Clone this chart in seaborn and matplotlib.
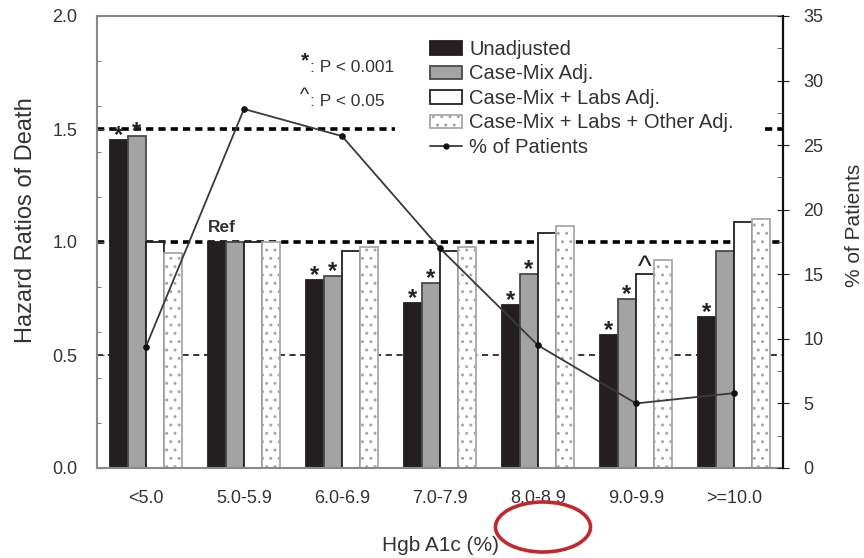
import numpy as np
import pandas as pd
import matplotlib
matplotlib.use("Agg")
import matplotlib.pyplot as plt
import seaborn as sns
from matplotlib.patches import Patch, Ellipse
from matplotlib.lines import Line2D
from matplotlib.ticker import MultipleLocator, FixedLocator

# ---------------- data ----------------
categories = ["<5.0", "5.0-5.9", "6.0-6.9", "7.0-7.9", "8.0-8.9", "9.0-9.9", ">=10.0"]
series_names = ["Unadjusted", "Case-Mix Adj.", "Case-Mix + Labs Adj.",
                "Case-Mix + Labs + Other Adj."]
unadjusted = [1.45, 1.00, 0.83, 0.73, 0.72, 0.59, 0.67]
casemix = [1.47, 1.00, 0.85, 0.82, 0.86, 0.75, 0.96]
casemix_labs = [1.00, 1.00, 0.96, 0.96, 1.04, 0.86, 1.09]
casemix_labs_other = [0.95, 1.00, 0.98, 0.98, 1.07, 0.92, 1.10]
pct_patients = [9.4, 27.8, 25.7, 17.0, 9.5, 5.0, 5.8]
sig_unadjusted = ["*", "", "*", "*", "*", "*", "*"]
sig_casemix = ["*", "", "*", "*", "*", "*", ""]
sig_casemix_labs = ["", "", "", "", "", "^", ""]
sig_other = ["", "", "", "", "", "", ""]
ref_group = "5.0-5.9"
ref_lines = [1.5, 1.0, 0.5]
line_label = "% of Patients"

# ---------------- style ----------------
sns.set_style("white")
plt.rcParams["font.family"] = ["Liberation Sans", "DejaVu Sans"]
TXT = "#333333"

fig = plt.figure(figsize=(8.64, 5.58), dpi=100)
ax = fig.add_axes([97 / 864, 1 - 468 / 558, 686 / 864, 452 / 558])

values = [unadjusted, casemix, casemix_labs, casemix_labs_other]
sigs = [sig_unadjusted, sig_casemix, sig_casemix_labs, sig_other]
df = pd.DataFrame({
    "group": [c for _ in series_names for c in categories],
    "series": [s for s in series_names for _ in categories],
    "hr": [v for vals in values for v in vals],
})

face = ["#231f20", "#a3a3a3", "#ffffff", "#ffffff"]
edge = ["#231f20", "#4a4a4a", "#222222", "#a8a8a8"]
hatch = [None, None, None, ".."]

# reference lines (behind bars); the 1.5 line is interrupted by the legend block
heavy = dict(color="black", lw=2.6, ls=(0, (2.0, 1.4)), zorder=0.5)
ax.axhline(ref_lines[0], xmin=0, xmax=(395 - 97) / 686, **heavy)
ax.axhline(ref_lines[0], xmin=(765 - 97) / 686, xmax=1, **heavy)
ax.axhline(ref_lines[1], **heavy)
ax.axhline(ref_lines[2], color="black", lw=1.1, ls=(0, (4, 3)), zorder=0.5)

sns.barplot(data=df, x="group", y="hr", hue="series", order=categories,
            hue_order=series_names, palette=face, saturation=1, width=0.74,
            errorbar=None, legend=False, ax=ax, zorder=2)

for i, cont in enumerate(ax.containers):
    for j, bar in enumerate(cont):
        bar.set_edgecolor(edge[i])
        bar.set_linewidth(1.3)
        if hatch[i]:
            bar.set_hatch(hatch[i])
        s = sigs[i][j]
        if s:
            if s == "*":
                ax.annotate(s, (bar.get_x() + bar.get_width() / 2, bar.get_height()),
                            xytext=(0, -1.5), textcoords="offset points",
                            ha="center", va="baseline", fontsize=17, fontweight="bold",
                            color="#222222")
            else:
                ax.annotate(s, (bar.get_x() + bar.get_width() / 2, bar.get_height()),
                            xytext=(0, -2), textcoords="offset points",
                            ha="center", va="baseline", fontsize=21,
                            color="#222222")

# "Ref" label over the reference group
ri = categories.index(ref_group)
b0 = ax.containers[0][ri]
b1 = ax.containers[1][ri]
ax.annotate("Ref", ((b0.get_x() + b1.get_x() + b1.get_width()) / 2, b0.get_height()),
            xytext=(-3, 5), textcoords="offset points", ha="center", va="bottom",
            fontsize=12.5, fontweight="bold", color=TXT)

ax.set_xlim(-0.5, len(categories) - 0.5)
ax.set_ylim(0, 2.0)
ax.yaxis.set_major_locator(MultipleLocator(0.5))
ax.yaxis.set_minor_locator(FixedLocator([0.2, 0.4, 0.6, 0.8, 1.2, 1.4, 1.6, 1.8]))
ax.set_yticklabels([f"{v:.1f}" for v in ax.get_yticks()])
ax.set_xticks(range(len(categories)))
ax.set_xticklabels(categories)
ax.set_xticks(np.arange(len(categories) - 1) + 0.5, minor=True)
ax.tick_params(axis="x", which="major", length=0, pad=16, labelsize=13, labelcolor=TXT)
ax.tick_params(axis="x", which="minor", direction="in", length=5, color="#444")
ax.tick_params(axis="y", which="major", direction="in", length=5, pad=14,
               labelsize=13, labelcolor=TXT, color="#444", left=True)
ax.tick_params(axis="y", which="minor", direction="in", length=3, color="#666", left=True)

for side in ["left", "bottom", "top"]:
    ax.spines[side].set_color("#8a8a8a")
    ax.spines[side].set_linewidth(1.5)
ax.spines["right"].set_visible(False)

ax.set_xlabel("Hgb A1c (%)", fontsize=15, color=TXT, labelpad=21)
ax.set_ylabel("Hazard Ratios of Death", fontsize=17, color=TXT, va="center")
ax.yaxis.set_label_coords(-(97 - 26) / 686, (468 - 220) / 452)

# ---------------- % of patients line ----------------
ax2 = ax.twinx()
sns.lineplot(x=np.arange(len(categories)), y=pct_patients, ax=ax2, color="#3a3a3a",
             lw=1.3, marker="o", markersize=4, markerfacecolor="#111",
             markeredgecolor="#111", zorder=5)
ax2.set_ylim(0, 35)
ax2.yaxis.set_major_locator(MultipleLocator(5))
ax2.yaxis.set_minor_locator(FixedLocator(np.arange(2.5, 35, 5)))
ax2.tick_params(axis="y", which="major", direction="inout", length=9, pad=10,
                labelsize=13, labelcolor=TXT, color="#222", right=True)
ax2.tick_params(axis="y", which="minor", direction="in", length=4, color="#555", right=True)
for side in ["left", "bottom", "top"]:
    ax2.spines[side].set_visible(False)
ax2.spines["right"].set_color("#111")
ax2.spines["right"].set_linewidth(1.6)
ax2.set_ylabel(line_label, fontsize=15, color=TXT, rotation=90, va="center")
ax2.yaxis.set_label_coords((855 - 97) / 686, (468 - 225) / 452)

# ---------------- legend ----------------
handles = [Patch(facecolor=face[k], edgecolor=edge[k], hatch=hatch[k], linewidth=1.3)
           for k in range(4)]
handles.append(Line2D([0], [0], color="#3a3a3a", lw=1.3, marker="o", markersize=3.5,
                      markerfacecolor="#111", markeredgecolor="#111"))
ax2.legend(handles, series_names + [line_label], loc="upper left",
           bbox_to_anchor=(430 / 864, 1 - 40 / 558), bbox_transform=fig.transFigure,
           frameon=False, fontsize=14.5, handlelength=1.6, handleheight=0.65,
           handletextpad=0.35, labelspacing=0.27, borderaxespad=0, borderpad=0,
           labelcolor=TXT)

# significance key
ax.annotate("*", (1.62, 1.80), fontsize=15, fontweight="bold", color="#222",
            ha="center", va="center")
ax.text(1.67, 1.77, ": P < 0.001", fontsize=12.5, color=TXT, va="center", ha="left")
ax.annotate("^", (1.62, 1.65), fontsize=14, color="#222", ha="center", va="center")
ax.text(1.67, 1.62, ": P < 0.05", fontsize=12.5, color=TXT, va="center", ha="left")

# red highlight ellipse around the 8.0-8.9 label
ell = Ellipse((543 / 864, 1 - 527 / 558), 95 / 864, 50 / 558, transform=fig.transFigure,
              fill=False, edgecolor="#c1272d", lw=2.6, clip_on=False)
fig.patches.append(ell)

fig.savefig("out.png", dpi=100)
